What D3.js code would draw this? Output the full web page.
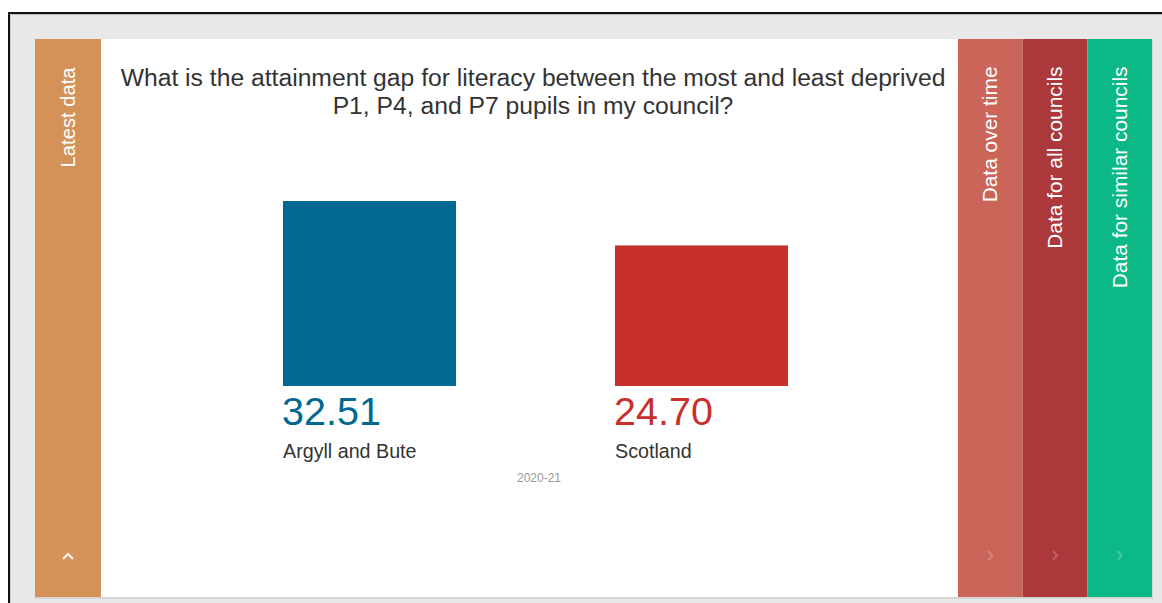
<!DOCTYPE html>
<html>
<head>
<meta charset="utf-8">
<script src="https://cdn.jsdelivr.net/npm/d3@7"></script>
<style>
  html, body { margin: 0; padding: 0; background: #ffffff; }
  svg { display: block; font-family: "Liberation Sans", Arial, sans-serif; }
</style>
</head>
<body>
<svg id="chart" width="1162" height="603"></svg>
<script>
// ---- data ----
const categories = ["Argyll and Bute", "Scotland"];
const values = [32.51, 24.70];
const valueLabels = ["32.51", "24.70"];
const barColors = ["#006892", "#c8302c"];
const period = "2020-21";
const titleLines = [
  "What is the attainment gap for literacy between the most and least deprived",
  "P1, P4, and P7 pupils in my council?"
];
const leftTab = { label: "Latest data", color: "#d49258" };
const rightTabs = [
  { label: "Data over time", color: "#cb655a" },
  { label: "Data for all councils", color: "#ab393b" },
  { label: "Data for similar councils", color: "#0db887" }
];

// ---- layout ----
const svg = d3.select("#chart");

// outer frame
svg.append("rect").attr("x", 9).attr("y", 13).attr("width", 1170).attr("height", 620)
  .attr("fill", "#e8e8e8").attr("stroke", "#111").attr("stroke-width", 2);
svg.append("line").attr("x1", 10).attr("x2", 1162).attr("y1", 14.5).attr("y2", 14.5)
  .attr("stroke", "#bdbdbd").attr("stroke-width", 1);
svg.append("line").attr("x1", 10.5).attr("x2", 10.5).attr("y1", 14).attr("y2", 603)
  .attr("stroke", "#cfcfcf").attr("stroke-width", 1);

// card shadow + card
const card = { x: 35, y: 39, w: 1117, h: 558 };
svg.append("rect").attr("x", card.x).attr("y", card.y + 1).attr("width", card.w + 1).attr("height", card.h + 1)
  .attr("fill", "#d6d6d6");
svg.append("rect").attr("x", card.x).attr("y", card.y).attr("width", card.w).attr("height", card.h)
  .attr("fill", "#ffffff");

// left tab
const tabW = 66;
svg.append("rect").attr("x", 35).attr("y", card.y).attr("width", tabW).attr("height", card.h).attr("fill", leftTab.color);
svg.append("text")
  .attr("transform", "translate(68,67.5) rotate(-90)")
  .attr("text-anchor", "end").attr("dy", "0.36em")
  .attr("font-size", 20.2).attr("fill", "#ffffff")
  .text(leftTab.label);
svg.append("path").attr("d", "M63,559 L68,554 L73,559")
  .attr("fill", "none").attr("stroke", "#ffffff").attr("stroke-width", 2.2).attr("opacity", 0.9);

// right tabs
const tabX = d3.scaleBand().domain(rightTabs.map(d => d.label)).range([958, 1152]);
const rt = svg.selectAll("g.rtab").data(rightTabs).enter().append("g").attr("class", "rtab");
rt.append("rect")
  .attr("x", d => tabX(d.label)).attr("y", card.y)
  .attr("width", tabX.bandwidth()).attr("height", card.h)
  .attr("fill", d => d.color);
rt.append("text")
  .attr("transform", d => `translate(${tabX(d.label) + tabX.bandwidth() / 2 - 0.5},66.5) rotate(-90)`)
  .attr("text-anchor", "end").attr("dy", "0.36em")
  .attr("font-size", 20.9).attr("fill", "#ffffff")
  .text(d => d.label);
rt.append("path")
  .attr("d", d => {
    const cx = tabX(d.label) + tabX.bandwidth() / 2;
    return `M${cx - 2},551 L${cx + 2},555.5 L${cx - 2},560`;
  })
  .attr("fill", "none").attr("stroke", "#ffffff").attr("stroke-width", 2).attr("opacity", 0.22);

// title
const title = svg.append("text").attr("text-anchor", "middle")
  .attr("font-size", 24.7).attr("fill", "#333333");
titleLines.forEach((t, i) => {
  title.append("tspan").attr("x", 533).attr("y", 86 + i * 28).text(t);
});

// scales
const x = d3.scaleBand().domain(categories).range([200, 871]).paddingInner(0.479).paddingOuter(0.25);
const y = d3.scaleLinear().domain([0, d3.max(values)]).range([386, 201]);

const data = categories.map((c, i) => ({ c, v: values[i], label: valueLabels[i], color: barColors[i] }));

const g = svg.selectAll("g.bar").data(data).enter().append("g").attr("class", "bar");
g.append("rect")
  .attr("x", d => x(d.c)).attr("y", d => y(d.v))
  .attr("width", x.bandwidth()).attr("height", d => y(0) - y(d.v))
  .attr("fill", d => d.color);
g.append("text")
  .attr("x", d => x(d.c) - 1).attr("y", 425)
  .attr("font-size", 39.5).attr("fill", d => d.color)
  .text(d => d.label);
g.append("text")
  .attr("x", d => x(d.c)).attr("y", 457.5)
  .attr("font-size", 19.7).attr("fill", "#333333")
  .text(d => d.c);

svg.append("text").attr("x", 539).attr("y", 482).attr("text-anchor", "middle")
  .attr("font-size", 12).attr("fill", "#999999").text(period);
</script>
</body>
</html>
